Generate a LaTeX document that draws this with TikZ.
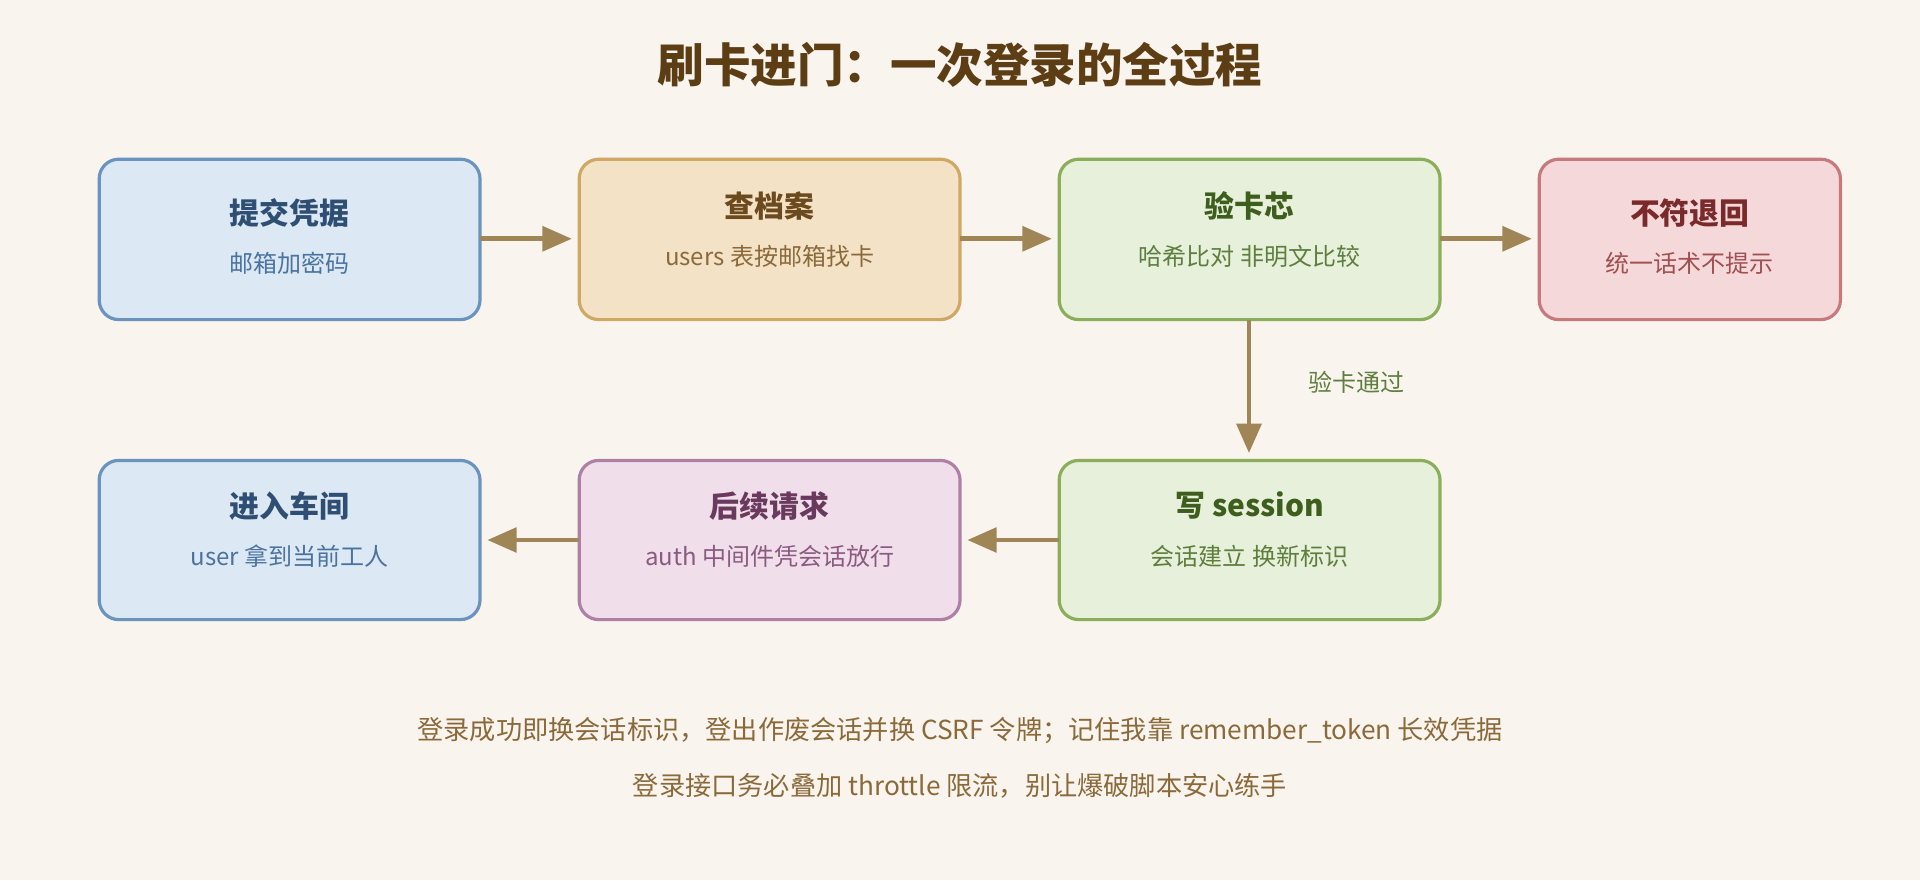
\documentclass[tikz,border=0pt]{standalone}
\usepackage{fontspec}
\setmainfont{Noto Sans CJK SC}
\usetikzlibrary{arrows.meta}
\definecolor{bg}{HTML}{F9F4EE}
\definecolor{arr}{HTML}{A08556}
\begin{document}
\begin{tikzpicture}[x=0.5pt,y=-0.5pt,
  box/.style args={#1/#2/#3}{draw=#1,fill=#2,line width=1.3pt,rounded corners=8pt,anchor=north west},
  ar/.style={draw=arr,line width=1.9pt,-{Triangle[length=12pt,width=10pt]}},
  tt/.style={font=\fontsize{12.2}{14}\selectfont\bfseries},
  st/.style={font=\fontsize{9.8}{11}\selectfont}]
\fill[bg] (0,0) rectangle (1568,719);
\useasboundingbox (0,0) rectangle (1568,719);
\node[font=\fontsize{19}{22}\selectfont\bfseries, text={rgb,255:red,92;green,61;blue,20}] (title) at (784,53) {刷卡进门：一次登录的全过程};
\definecolor{b1}{HTML}{6A93BE}\definecolor{f1}{HTML}{DCE8F3}\definecolor{t1}{HTML}{2E4F73}\definecolor{s1}{HTML}{4A73A0}
\definecolor{b2}{HTML}{CFA866}\definecolor{f2}{HTML}{F3E2C6}\definecolor{t2}{HTML}{6B4A1E}\definecolor{s2}{HTML}{8B6A3A}
\definecolor{b3}{HTML}{8BAE5A}\definecolor{f3}{HTML}{E7F0DA}\definecolor{t3}{HTML}{3E5E1E}\definecolor{s3}{HTML}{5E7E3E}
\definecolor{b4}{HTML}{C77A7E}\definecolor{f4}{HTML}{F5D9DA}\definecolor{t4}{HTML}{7A2A2A}\definecolor{s4}{HTML}{A05050}
\definecolor{b5}{HTML}{B07FA6}\definecolor{f5}{HTML}{F0DFEA}\definecolor{t5}{HTML}{6A3A5E}\definecolor{s5}{HTML}{8A5A80}
\draw[box=b1/f1/] (81,130) rectangle (392,261);
\draw[box=b2/f2/] (473,130) rectangle (784,261);
\draw[box=b3/f3/] (865,130) rectangle (1176,261);
\draw[box=b4/f4/] (1257,130) rectangle (1503,261);
\draw[box=b1/f1/] (81,376) rectangle (392,506);
\draw[box=b5/f5/] (473,376) rectangle (784,506);
\draw[box=b3/f3/] (865,376) rectangle (1176,506);
\node[tt,text=t1] (a1) at (236.5,174) {提交凭据};
\node[st,text=s1] (a1s) at (236.5,215) {邮箱加密码};
\node[tt,text=t2] (a2) at (628.5,168) {查档案};
\node[st,text=s2] (a2s) at (628.5,209) {users 表按邮箱找卡};
\node[tt,text=t3] (a3) at (1020.5,168) {验卡芯};
\node[st,text=s3] (a3s) at (1020.5,209) {哈希比对 非明文比较};
\node[tt,text=t4] (a4) at (1380,174) {不符退回};
\node[st,text=s4] (a4s) at (1380,215) {统一话术不提示};
\node[tt,text=t3] (b3) at (1020.5,413) {写 session};
\node[st,text=s3] (b3s) at (1020.5,454) {会话建立 换新标识};
\node[tt,text=t5] (b2) at (628.5,413) {后续请求};
\node[st,text=s5] (b2s) at (628.5,454) {auth 中间件凭会话放行};
\node[tt,text=t1] (b1) at (236.5,413) {进入车间};
\node[st,text=s1] (b1s) at (236.5,454) {user 拿到当前工人};
\coordinate (p1) at (392,195); \coordinate (q1) at (467,195);
\coordinate (p2) at (784,195); \coordinate (q2) at (859,195);
\coordinate (p3) at (1176,195); \coordinate (q3) at (1251,195);
\coordinate (p4) at (1020,261); \coordinate (q4) at (1020,370);
\coordinate (p5) at (865,441); \coordinate (q5) at (790,441);
\coordinate (p6) at (473,441); \coordinate (q6) at (398,441);
\foreach \i in {1,...,6} \draw[ar] (p\i) -- (q\i);
\node[st,text=s3] (lab) at (1108,312) {验卡通过};
\node[font=\fontsize{10.7}{12}\selectfont,text=s2] (f1) at (784,597) {登录成功即换会话标识，登出作废会话并换 CSRF 令牌；记住我靠 remember\_token 长效凭据};
\node[font=\fontsize{10.7}{12}\selectfont,text=s2] (f2) at (784,642) {登录接口务必叠加 throttle 限流，别让爆破脚本安心练手};
\end{tikzpicture}
\end{document}
